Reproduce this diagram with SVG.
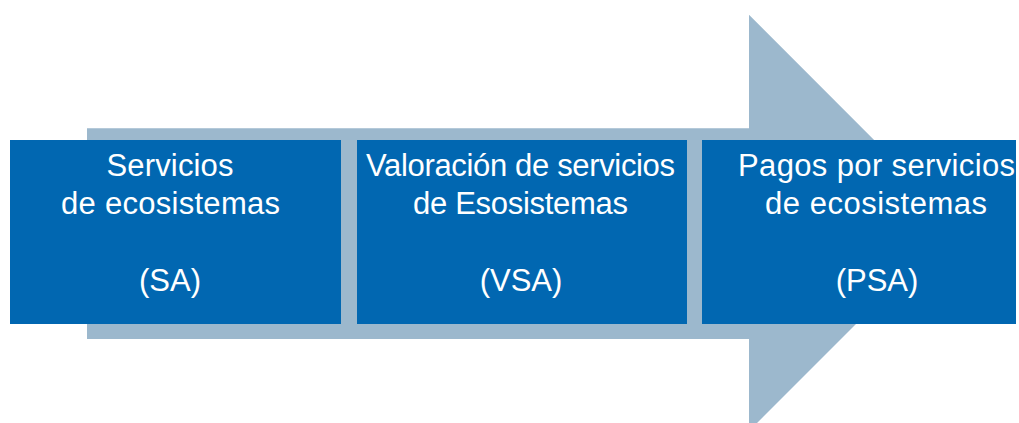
<svg xmlns="http://www.w3.org/2000/svg" width="1019" height="423" viewBox="0 0 1019 423">
  <style>
    .box { fill: #0167B1; }
    .arrow { fill: #9CB8CD; }
    .lbl { font-family: "Liberation Sans", Arial, Helvetica, sans-serif; font-size: 31px; fill: #FFFFFF; text-anchor: middle; }
  </style>
  <rect x="0" y="0" width="1019" height="423" fill="#FFFFFF"/>
  <g id="connectors">
    <polygon class="arrow" points="87,128.3 749,128.3 749,14.7 957,223 749,431 749,339 87,339"/>
  </g>
  <g id="node-sa">
    <rect class="box" x="10" y="140" width="331" height="184"/>
    <text class="lbl" x="170" y="176" textLength="127">Servicios</text>
    <text class="lbl" x="170.5" y="214" textLength="219">de ecosistemas</text>
    <text class="lbl" x="170" y="291">(SA)</text>
  </g>
  <g id="node-vsa">
    <rect class="box" x="357" y="140" width="330" height="184"/>
    <text class="lbl" x="520.5" y="176" textLength="309">Valoración de servicios</text>
    <text class="lbl" x="520.5" y="214" textLength="215">de Esosistemas</text>
    <text class="lbl" x="521" y="291">(VSA)</text>
  </g>
  <g id="node-psa">
    <rect class="box" x="702" y="140" width="314" height="184"/>
    <text class="lbl" x="876.5" y="176" textLength="277">Pagos por servicios</text>
    <text class="lbl" x="876" y="214" textLength="222">de ecosistemas</text>
    <text class="lbl" x="877" y="291">(PSA)</text>
  </g>
</svg>
